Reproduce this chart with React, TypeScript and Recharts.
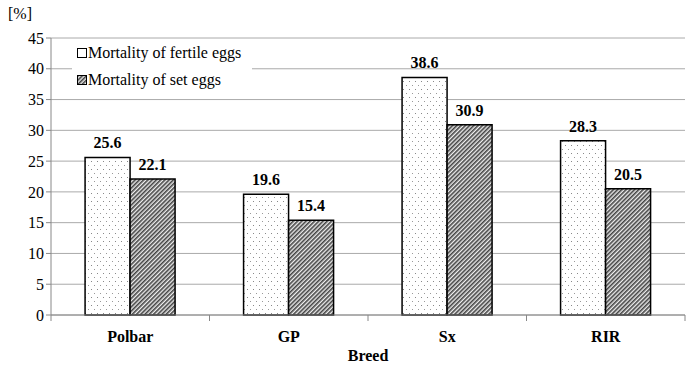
import React from "react";
import { BarChart, Bar, XAxis, YAxis, CartesianGrid, LabelList } from "recharts";

const breeds = ["Polbar", "GP", "Sx", "RIR"];
const fertileEggs = [25.6, 19.6, 38.6, 28.3];
const setEggs = [22.1, 15.4, 30.9, 20.5];
const yTicks = [0, 5, 10, 15, 20, 25, 30, 35, 40, 45];
const legendLabels = ["Mortality of fertile eggs", "Mortality of set eggs"];

const data = breeds.map((b, i) => ({ breed: b, fertile: fertileEggs[i], set: setEggs[i] }));

const FONT = "Liberation Serif";

const XTick = (props: any) => {
  const { x, y, payload, index } = props;
  const half = 158.5 / 2;
  return (
    <g>
      <line x1={x - half} y1={y - 8} x2={x - half} y2={y - 2} stroke="#888" />
      {index === breeds.length - 1 && (
        <line x1={x + half} y1={y - 8} x2={x + half} y2={y - 2} stroke="#888" />
      )}
      <text x={x} y={y + 19} textAnchor="middle" style={{ fontFamily: FONT }} fontWeight="bold" fontSize={16} fill="#000">
        {payload.value}
      </text>
    </g>
  );
};

export default function App() {
  return (
    <div style={{ position: "absolute", left: 0, top: 0, width: 700, height: 368, background: "#fff", fontFamily: FONT }}>
      <BarChart
        width={700}
        height={368}
        data={data}
        margin={{ top: 38, right: 15, left: 0, bottom: 23 }}
        barCategoryGap="21.5%"
        barGap={0}
        style={{ fontFamily: FONT }}
      >
        <defs>
          <pattern id="dots" width={6} height={8} patternUnits="userSpaceOnUse">
            <rect width={6} height={8} fill="#fff" />
            <rect x={1} y={1} width={1} height={1} fill="#888" />
            <rect x={4} y={5} width={1} height={1} fill="#999" />
          </pattern>
          <pattern id="hatch" width={3} height={3} patternUnits="userSpaceOnUse" patternTransform="rotate(45)">
            <rect width={3} height={3} fill="#eee" />
            <rect width={1.6} height={3} fill="#444" />
          </pattern>
        </defs>
        <CartesianGrid vertical={false} stroke="#aaa" />
        <XAxis
          dataKey="breed"
          stroke="#888"
          tickLine={false}
          tick={<XTick />}
          height={30}
          interval={0}
        />
        <YAxis
          domain={[0, 45]}
          ticks={yTicks}
          width={51}
          stroke="#888"
          tickSize={5}
          tick={{ style: { fontFamily: FONT }, fontSize: 16, fill: "#000" }}
          interval={0}
        />
        <Bar dataKey="fertile" fill="url(#dots)" stroke="#000" strokeWidth={1.5} isAnimationActive={false}>
          <LabelList dataKey="fertile" position="top" offset={9} style={{ fontFamily: FONT, fontWeight: "bold", fontSize: 16, fill: "#000" }} />
        </Bar>
        <Bar dataKey="set" fill="url(#hatch)" stroke="#000" strokeWidth={1.5} isAnimationActive={false}>
          <LabelList dataKey="set" position="top" offset={9} style={{ fontFamily: FONT, fontWeight: "bold", fontSize: 16, fill: "#000" }} />
        </Bar>
        <g style={{ fontFamily: FONT }}>
          <rect x={72} y={40} width={180} height={52} fill="#fff" />
          <rect x={77.5} y={48.5} width={9} height={9} fill="#fff" stroke="#000" />
          <text x={88} y={58} style={{ fontFamily: FONT }} fontSize={16} fill="#000">{legendLabels[0]}</text>
          <rect x={77.5} y={75.5} width={9} height={9} fill="url(#hatch)" stroke="#000" />
          <text x={88} y={85} style={{ fontFamily: FONT }} fontSize={16} fill="#000">{legendLabels[1]}</text>
        </g>
        <text x={8} y={19} style={{ fontFamily: FONT }} fontSize={16} fill="#000">[%]</text>
        <text x={368} y={361} textAnchor="middle" style={{ fontFamily: FONT }} fontWeight="bold" fontSize={16} fill="#000">Breed</text>
      </BarChart>
    </div>
  );
}
